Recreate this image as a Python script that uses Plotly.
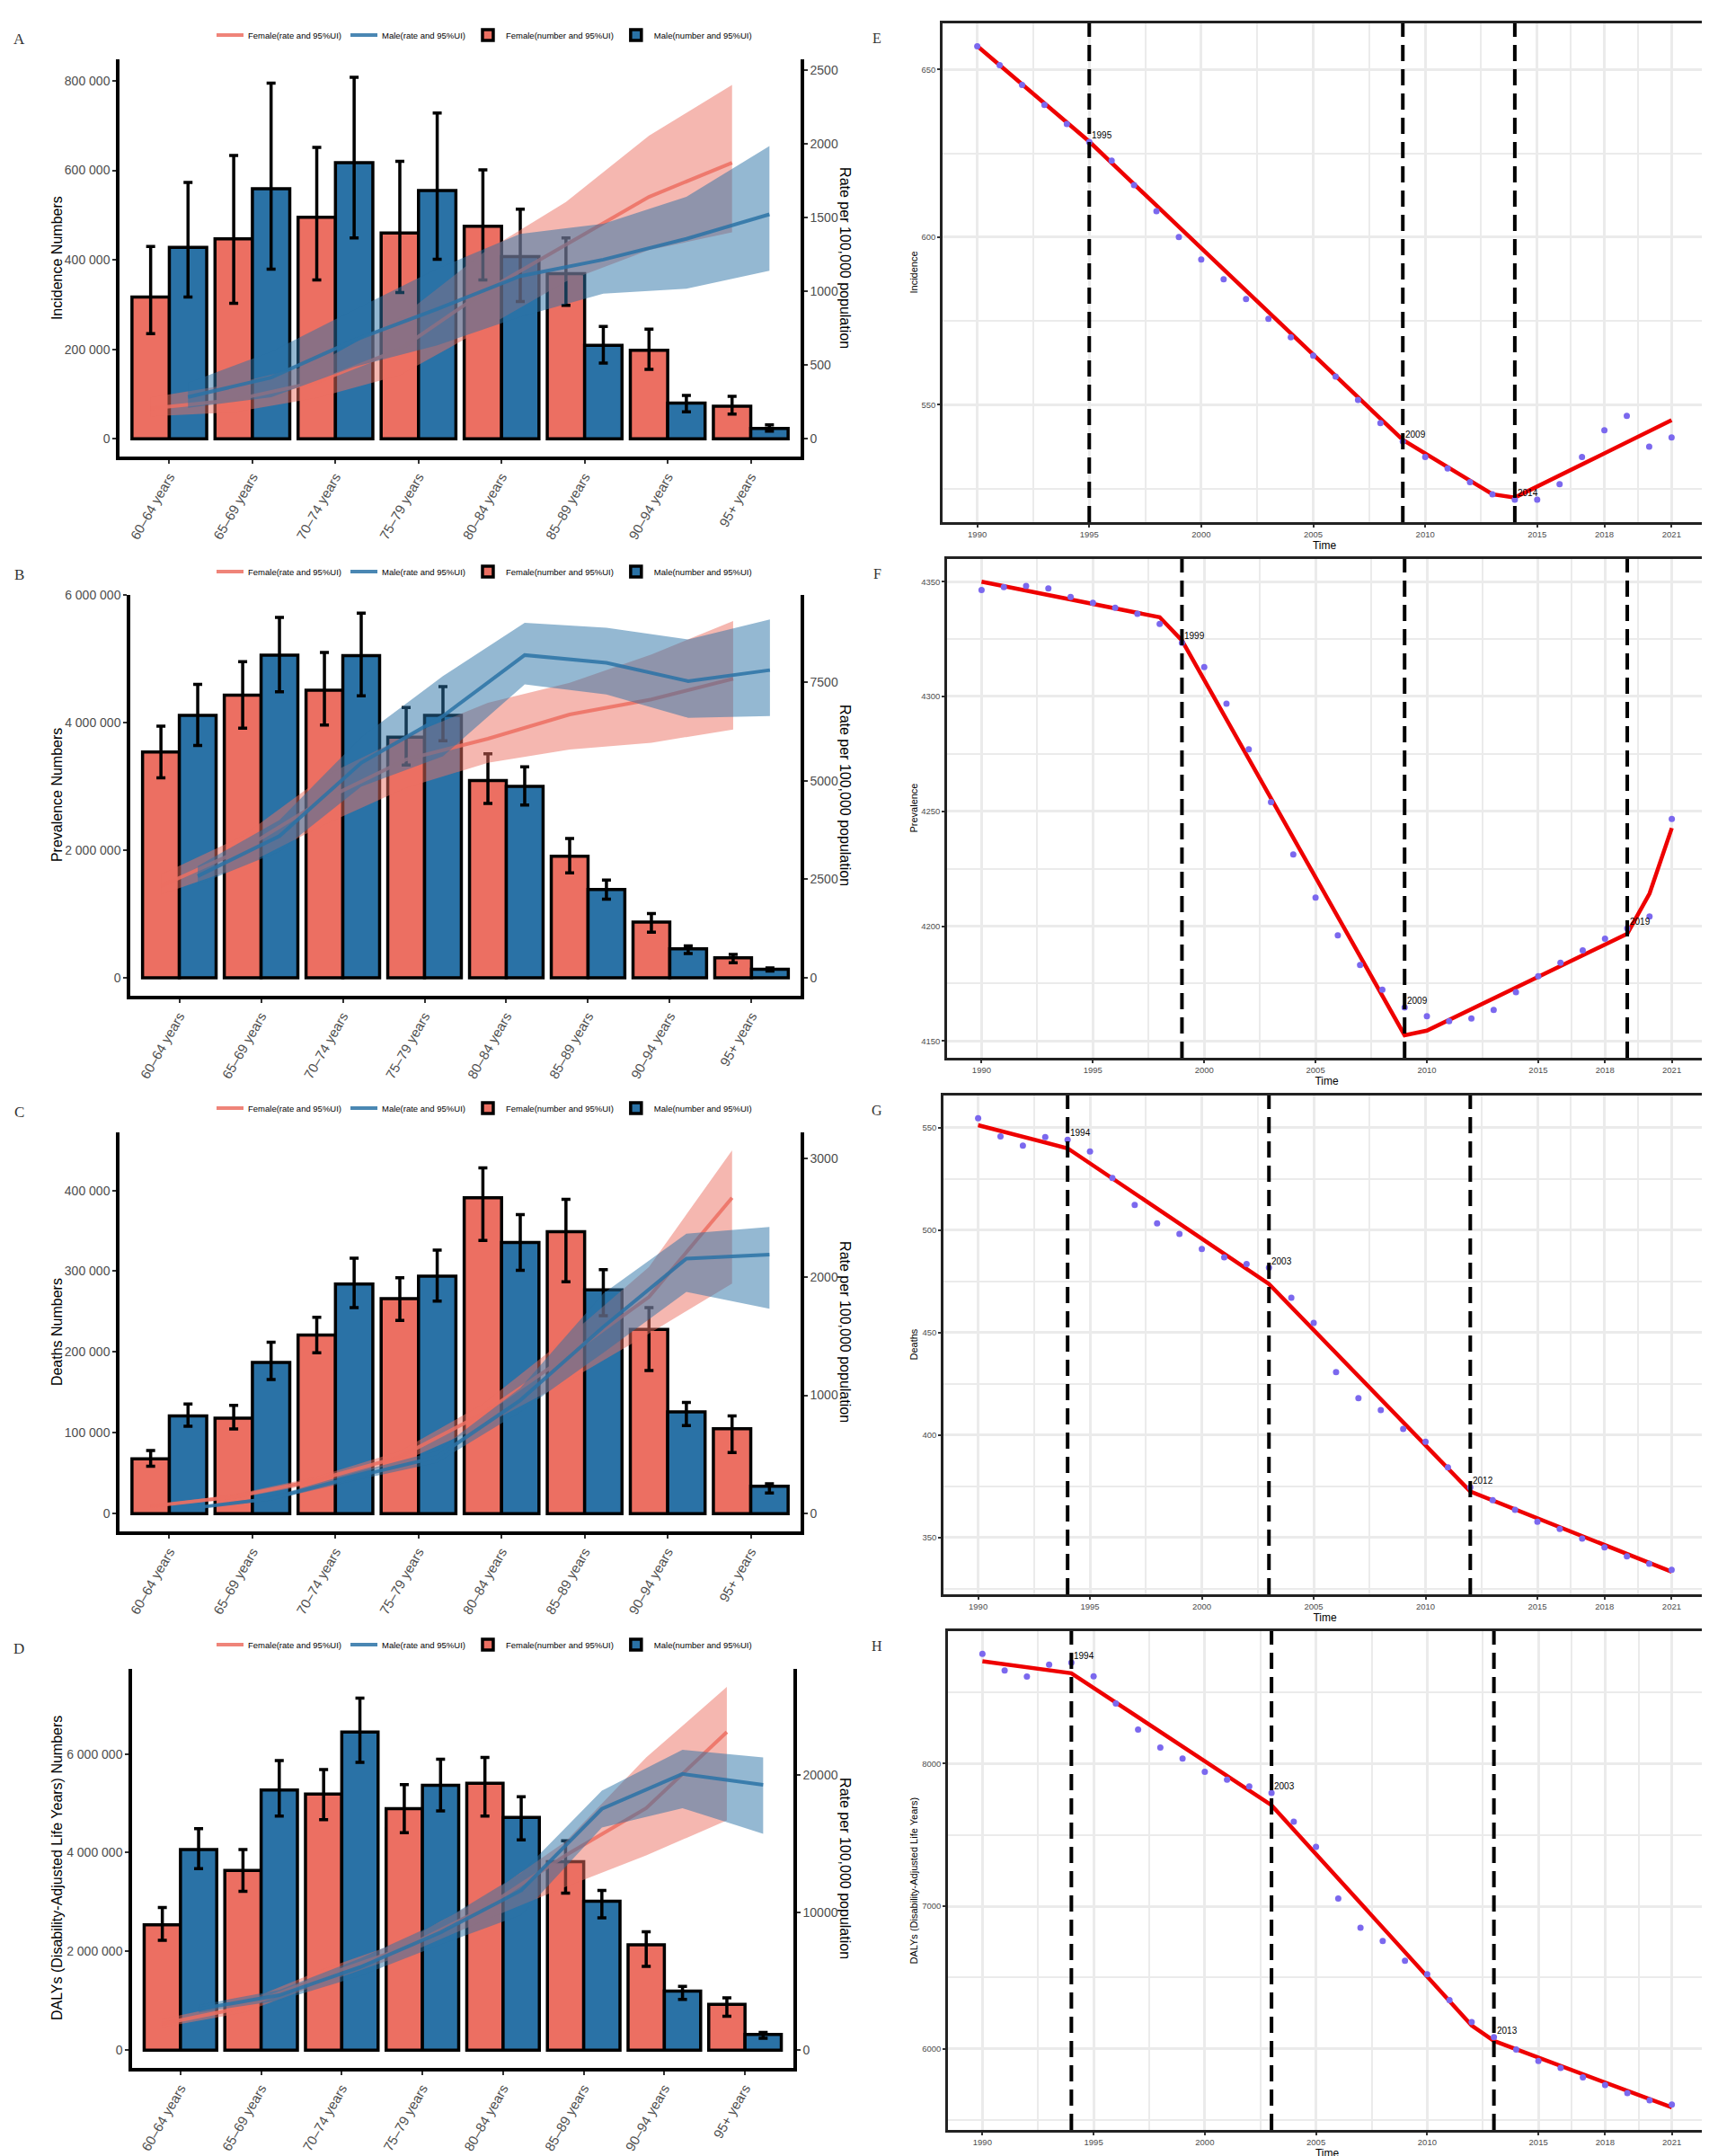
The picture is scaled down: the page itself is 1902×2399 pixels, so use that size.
import plotly.graph_objects as go

W, H = 1902, 2399

ages = ["60–64 years", "65–69 years", "70–74 years", "75–79 years",
        "80–84 years", "85–89 years", "90–94 years", "95+ years"]

# ---- A: incidence (numbers, rate per 100,000) ----
inc_num_f = [317000, 447000, 495000, 460000, 475000, 369000, 198000, 73000]
inc_num_f_lo = [235000, 303000, 355000, 327000, 355000, 298000, 155000, 55000]
inc_num_f_hi = [430000, 633000, 651000, 620000, 601000, 449000, 245000, 95000]
inc_num_m = [428000, 559000, 617000, 555000, 407000, 209000, 80000, 23000]
inc_num_m_lo = [317000, 379000, 449000, 401000, 307000, 169000, 60000, 17000]
inc_num_m_hi = [573000, 795000, 808000, 728000, 513000, 251000, 97000, 31000]
inc_rate_f = [206, 263, 385, 607, 992, 1316, 1640, 1872]
inc_rate_f_lo = [152, 179, 277, 431, 744, 1066, 1279, 1400]
inc_rate_f_hi = [280, 373, 508, 819, 1260, 1606, 2055, 2400]
inc_rate_m = [283, 415, 668, 880, 1103, 1215, 1356, 1522]
inc_rate_m_lo = [210, 282, 488, 634, 827, 984, 1017, 1140]
inc_rate_m_hi = [379, 589, 875, 1153, 1390, 1458, 1641, 1985]

# ---- B: prevalence ----
prev_num_f = [3539000, 4433000, 4511000, 3774000, 3095000, 1908000, 873000, 314000]
prev_num_f_lo = [3137000, 3915000, 3962000, 3335000, 2734000, 1647000, 716000, 235000]
prev_num_f_hi = [3947000, 4956000, 5102000, 4239000, 3513000, 2185000, 1009000, 366000]
prev_num_m = [4114000, 5060000, 5050000, 4114000, 3000000, 1385000, 455000, 136000]
prev_num_m_lo = [3644000, 4485000, 4422000, 3717000, 2708000, 1234000, 382000, 105000]
prev_num_m_hi = [4600000, 5651000, 5719000, 4564000, 3309000, 1532000, 502000, 157000]
prev_rate_f = [2325, 3254, 4522, 5537, 6062, 6678, 7058, 7582]
prev_rate_f_lo = [2113, 2832, 3888, 4818, 5452, 5790, 5960, 6298]
prev_rate_f_hi = [2620, 3593, 5114, 6129, 6975, 7480, 8200, 9045]
prev_rate_m = [2578, 3593, 5452, 6636, 8183, 7988, 7523, 7802]
prev_rate_m_lo = [2367, 3200, 4850, 5620, 7439, 7185, 6593, 6636]
prev_rate_m_hi = [2832, 4000, 6100, 7650, 9003, 8876, 8580, 9087]

# ---- C: deaths ----
death_num_f = [67800, 118000, 221000, 266000, 391000, 349000, 228000, 105000]
death_num_f_lo = [58700, 104700, 199000, 239000, 338000, 287000, 177000, 75600]
death_num_f_hi = [78000, 134000, 243000, 292000, 428000, 389000, 255000, 121000]
death_num_m = [121000, 187000, 284000, 294000, 335500, 277000, 126000, 33700]
death_num_m_lo = [108000, 166000, 255000, 263000, 301000, 245000, 109000, 25500]
death_num_m_hi = [135500, 212000, 316000, 326000, 370000, 302000, 137600, 37000]
death_rate_f = [62, 141, 282, 479, 845, 1324, 1831, 2670]
death_rate_f_lo = [54, 125, 254, 431, 740, 1110, 1521, 1944]
death_rate_f_hi = [71, 160, 310, 527, 925, 1480, 2084, 3070]
death_rate_m = [42, 127, 310, 479, 958, 1577, 2155, 2189]
death_rate_m_lo = [36, 113, 279, 431, 860, 1360, 1873, 1732]
death_rate_m_hi = [48, 144, 345, 530, 1060, 1860, 2366, 2422]

# ---- D: DALYs ----
daly_num_f = [2537000, 3640000, 5187000, 4890000, 5406000, 3816000, 2134000, 926000]
daly_num_f_lo = [2226000, 3216000, 4671000, 4403000, 4742000, 3180000, 1696000, 685000]
daly_num_f_hi = [2890000, 4064000, 5682000, 5378000, 5929000, 4240000, 2396000, 1060000]
daly_num_m = [4064000, 5272000, 6445000, 5364000, 4714000, 3018000, 1194000, 318000]
daly_num_m_lo = [3675000, 4742000, 5830000, 4848000, 4261000, 2678000, 1025000, 240000]
daly_num_m_hi = [4488000, 5866000, 7131000, 5894000, 5131000, 3237000, 1293000, 360000]
daly_rate_f = [1906, 3100, 5388, 7420, 10343, 14155, 17586, 23126]
daly_rate_f_lo = [1652, 2719, 4879, 6912, 9454, 11868, 14155, 16696]
daly_rate_f_hi = [2262, 3482, 5896, 7929, 11106, 15172, 21271, 26404]
daly_rate_m = [2973, 3990, 6023, 8564, 11614, 17535, 20076, 19288]
daly_rate_m_lo = [2719, 3609, 5388, 7675, 9835, 16188, 17586, 15731]
daly_rate_m_hi = [3278, 4371, 6658, 9327, 12884, 18856, 21830, 21271]

# ---- E-H: joinpoint trends 1990-2021 ----
years = list(range(1990, 2022))
inc_obs = [656.9, 651.3, 645.4, 639.4, 633.7, 628.4, 622.8, 615.5, 607.7, 600.0,
           593.3, 587.4, 581.5, 575.6, 570.1, 564.6, 558.4, 551.4, 544.5, 539.0,
           534.4, 531.0, 526.9, 523.3, 521.7, 521.7, 526.3, 534.4, 542.4, 546.7,
           537.5, 540.2]
inc_fit_years = [1990, 1995, 2009, 2013, 2014, 2021]
inc_fit = [657.0, 628.5, 539.5, 523.3, 522.3, 545.4]
inc_joins = [1995, 2009, 2014]

prev_obs = [4346.4, 4347.6, 4348.1, 4347.0, 4343.3, 4340.8, 4338.6, 4336.0, 4331.6, 4323.4,
            4312.8, 4296.9, 4277.0, 4254.0, 4231.2, 4212.4, 4196.0, 4183.1, 4172.3, 4164.6,
            4160.8, 4158.6, 4159.8, 4163.5, 4171.2, 4178.2, 4184.1, 4189.4, 4194.5, 4199.0,
            4204.2, 4246.7]
prev_fit_years = [1990, 1998, 1999, 2009, 2010, 2019, 2020, 2021]
prev_fit = [4350.0, 4334.5, 4324.4, 4152.5, 4154.5, 4196.7, 4214.2, 4242.7]
prev_joins = [1999, 2009, 2019]

death_obs = [554.7, 545.8, 541.3, 545.5, 544.2, 538.5, 525.5, 512.3, 503.3, 498.2,
             490.8, 486.8, 483.5, 481.7, 467.0, 454.8, 430.7, 418.0, 412.2, 403.0,
             396.7, 384.3, 374.5, 368.2, 363.5, 357.7, 354.2, 349.5, 345.2, 340.8,
             337.2, 334.2]
death_fit_years = [1990, 1994, 2003, 2012, 2021]
death_fit = [551.3, 540.0, 473.8, 372.5, 333.3]
death_joins = [1994, 2003, 2012]

daly_obs = [8770, 8653, 8610, 8694, 8708, 8612, 8421, 8239, 8112, 8036,
            7943, 7888, 7840, 7794, 7593, 7416, 7053, 6849, 6756, 6617,
            6522, 6342, 6187, 6081, 5995, 5914, 5866, 5799, 5746, 5689,
            5639, 5608]
daly_fit_years = [1990, 1994, 2003, 2012, 2013, 2021]
daly_fit = [8718, 8634, 7708, 6163, 6055, 5589]
daly_joins = [1994, 2003, 2013]

year_ticks = [1990, 1995, 2000, 2005, 2010, 2015, 2018, 2021]

FEMALE = "#EC6F62"
MALE = "#2A72A6"
SANS = "Liberation Sans, Arial, sans-serif"
SERIF = "Liberation Serif, Times New Roman, serif"
TICK_GREY = "#4D4D4D"


def rgba(hexcol, a):
    h = hexcol.lstrip("#")
    return "rgba(%d,%d,%d,%s)" % (int(h[0:2], 16), int(h[2:4], 16), int(h[4:6], 16), a)


# page pixel -> paper fraction
def fx(p):
    return p / W


def fy(p):
    return 1 - p / H


left_panels = [
    dict(letter="A", title="Incidence Numbers", box=(125, 883, 50, 494), leg_y=23,
         dtick=200000, rdtick=500,
         num=(inc_num_f, inc_num_f_lo, inc_num_f_hi, inc_num_m, inc_num_m_lo, inc_num_m_hi),
         rate=(inc_rate_f, inc_rate_f_lo, inc_rate_f_hi, inc_rate_m, inc_rate_m_lo, inc_rate_m_hi)),
    dict(letter="B", title="Prevalence Numbers", box=(137, 883, 648, 1096), leg_y=622,
         dtick=2000000, rdtick=2500,
         num=(prev_num_f, prev_num_f_lo, prev_num_f_hi, prev_num_m, prev_num_m_lo, prev_num_m_hi),
         rate=(prev_rate_f, prev_rate_f_lo, prev_rate_f_hi, prev_rate_m, prev_rate_m_lo, prev_rate_m_hi)),
    dict(letter="C", title="Deaths Numbers", box=(125, 883, 1248, 1694), leg_y=1221,
         dtick=100000, rdtick=1000,
         num=(death_num_f, death_num_f_lo, death_num_f_hi, death_num_m, death_num_m_lo, death_num_m_hi),
         rate=(death_rate_f, death_rate_f_lo, death_rate_f_hi, death_rate_m, death_rate_m_lo, death_rate_m_hi)),
    dict(letter="D", title="DALYs (Disability-Adjusted Life Years) Numbers", box=(139, 875, 1847, 2293),
         leg_y=1820, dtick=2000000, rdtick=10000,
         num=(daly_num_f, daly_num_f_lo, daly_num_f_hi, daly_num_m, daly_num_m_lo, daly_num_m_hi),
         rate=(daly_rate_f, daly_rate_f_lo, daly_rate_f_hi, daly_rate_m, daly_rate_m_lo, daly_rate_m_hi)),
]

right_panels = [
    dict(letter="E", title="Incidence", box=(1041, 1891, 10, 567), obs=inc_obs,
         fit_x=inc_fit_years, fit=inc_fit, joins=inc_joins, dtick=50),
    dict(letter="F", title="Prevalence", box=(1046, 1891, 608, 1165), obs=prev_obs,
         fit_x=prev_fit_years, fit=prev_fit, joins=prev_joins, dtick=50),
    dict(letter="G", title="Deaths", box=(1042, 1891, 1207, 1764), obs=death_obs,
         fit_x=death_fit_years, fit=death_fit, joins=death_joins, dtick=50),
    dict(letter="H", title="DALYs (Disability-Adjusted Life Years)", box=(1047, 1891, 1805, 2362),
         obs=daly_obs, fit_x=daly_fit_years, fit=daly_fit, joins=daly_joins, dtick=1000),
]

fig = go.Figure()
layout = {}
annotations = []
shapes = []
dodge = 0.225
xs = list(range(len(ages)))

for i, p in enumerate(left_panels):
    xa, ya, yr = "x%d" % (i + 1), "y%d" % (i + 1), "y%d" % (i + 5)
    leg = "legend" if i == 0 else "legend%d" % (i + 1)
    nf, nf_lo, nf_hi, nm, nm_lo, nm_hi = p["num"]
    rf, rf_lo, rf_hi, rm, rm_lo, rm_hi = p["rate"]
    scale = max(nf + nm) / max(rf + rm)
    top = max(max(nf_hi + nm_hi), max(rf_hi + rm_hi) * scale)
    rng = [-0.05 * top, 1.05 * top]

    for v, lo, hi, col, nm_, rank in ((nf, nf_lo, nf_hi, FEMALE, "Female(number and 95%UI)", 3),
                                      (nm, nm_lo, nm_hi, MALE, "Male(number and 95%UI)", 4)):
        fig.add_trace(go.Bar(
            x=xs, y=v, name=nm_, xaxis=xa, yaxis=ya, legend=leg, legendrank=rank,
            offsetgroup=str(rank),
            marker=dict(color=col, line=dict(color="black", width=3.5)),
            error_y=dict(type="data", symmetric=False,
                         array=[h - a for h, a in zip(hi, v)],
                         arrayminus=[a - l for a, l in zip(v, lo)],
                         color="black", thickness=3.5, width=5),
            hoverinfo="skip"))

    for v, lo, hi, col, nm_, rank, off in ((rf, rf_lo, rf_hi, FEMALE, "Female(rate and 95%UI)", 1, -dodge),
                                           (rm, rm_lo, rm_hi, MALE, "Male(rate and 95%UI)", 2, dodge)):
        xp = [k + off for k in xs]
        fig.add_trace(go.Scatter(
            x=xp + xp[::-1], y=hi + lo[::-1], fill="toself", fillcolor=rgba(col, 0.5),
            line=dict(width=0), mode="lines", xaxis=xa, yaxis=yr, showlegend=False,
            hoverinfo="skip"))
        fig.add_trace(go.Scatter(
            x=xp, y=v, mode="lines", name=nm_, line=dict(color=rgba(col, 0.85), width=4),
            xaxis=xa, yaxis=yr, legend=leg, legendrank=rank, hoverinfo="skip"))

    x0, x1, y0, y1 = p["box"]
    axis_common = dict(showline=True, linecolor="black", linewidth=3.5, ticks="outside",
                       ticklen=4, tickwidth=1.5, tickcolor="#333333", showgrid=False,
                       zeroline=False)
    layout["xaxis%d" % (i + 1)] = dict(
        domain=[fx(x0), fx(x1)], anchor=ya, range=[-0.6, 7.6], tickmode="array",
        tickvals=xs, ticktext=ages, tickangle=-60,
        tickfont=dict(family=SANS, size=15, color=TICK_GREY), **axis_common)
    layout["yaxis%d" % (i + 1)] = dict(
        domain=[fy(y1), fy(y0)], anchor=xa, range=rng, dtick=p["dtick"], tick0=0,
        tickformat=",d", tickfont=dict(family=SANS, size=14, color=TICK_GREY), **axis_common)
    layout["yaxis%d" % (i + 5)] = dict(
        overlaying=ya, side="right", anchor=xa, range=[r / scale for r in rng],
        dtick=p["rdtick"], tick0=0, tickformat="d",
        tickfont=dict(family=SANS, size=14, color=TICK_GREY), **axis_common)
    layout[leg] = dict(
        orientation="h", x=fx(228), xanchor="left", y=fy(p["leg_y"]), yanchor="middle",
        font=dict(family=SANS, size=9.5, color="black"), bgcolor="rgba(0,0,0,0)",
        traceorder="normal", itemwidth=30, tracegroupgap=0)

    mid = fy((y0 + y1) / 2)
    annotations.append(dict(text=p["title"], x=fx(55), y=mid, xref="paper", yref="paper",
                            xanchor="center", yanchor="middle", textangle=-90,
                            showarrow=False, font=dict(family=SANS, size=16, color="black")))
    annotations.append(dict(text="Rate per 100,000 population", x=fx(933), y=mid,
                            xref="paper", yref="paper", xanchor="center", yanchor="middle",
                            textangle=90, showarrow=False,
                            font=dict(family=SANS, size=16, color="black")))
    annotations.append(dict(text=p["letter"], x=fx(13), y=fy(y0 - 22), xref="paper", yref="paper",
                            xanchor="center", yanchor="middle", showarrow=False,
                            font=dict(family=SERIF, size=17, color="#333333")))

minor_years = [(a + b) / 2 for a, b in zip(year_ticks, year_ticks[1:])]

for j, p in enumerate(right_panels):
    n = j + 5
    xa, ya = "x%d" % n, "y%d" % (j + 9)
    fig.add_trace(go.Scatter(x=p["fit_x"], y=p["fit"], mode="lines",
                             line=dict(color="#EE0000", width=4.5), xaxis=xa, yaxis=ya,
                             showlegend=False, hoverinfo="skip"))
    fig.add_trace(go.Scatter(x=years, y=p["obs"], mode="markers",
                             marker=dict(color="#7B68EE", size=7), xaxis=xa, yaxis=ya,
                             showlegend=False, hoverinfo="skip"))
    vals = p["obs"] + p["fit"]
    lo, hi = min(vals), max(vals)
    pad = 0.05 * (hi - lo)
    x0, x1, y0, y1 = p["box"]
    grid = dict(showgrid=True, gridcolor="#EBEBEB", gridwidth=3, showline=True, mirror=True,
                linecolor="#222222", linewidth=2.5, ticks="outside", ticklen=3, tickwidth=1.5,
                tickcolor="#333333", zeroline=False,
                tickfont=dict(family=SANS, size=9.5, color=TICK_GREY))
    layout["xaxis%d" % n] = dict(
        domain=[fx(x0), fx(x1)], anchor=ya, range=[1988.45, 2022.55], tickmode="array",
        tickvals=year_ticks,
        minor=dict(tickmode="array", tickvals=minor_years, showgrid=True, gridcolor="#EBEBEB",
                   gridwidth=1.5),
        title=dict(text="Time", standoff=0, font=dict(family=SANS, size=12, color="black")),
        **grid)
    layout["yaxis%d" % (j + 9)] = dict(
        domain=[fy(y1), fy(y0)], anchor=xa, range=[lo - pad, hi + pad], dtick=p["dtick"], tick0=0,
        minor=dict(dtick=p["dtick"] / 2, tick0=0, showgrid=True, gridcolor="#EBEBEB",
                   gridwidth=1.5),
        **grid)
    for yr_ in p["joins"]:
        shapes.append(dict(type="line", xref=xa, yref=ya + " domain", x0=yr_, x1=yr_, y0=0, y1=1,
                           line=dict(color="black", width=4, dash="18px,9px"), layer="above"))
        annotations.append(dict(text=str(yr_), x=yr_, y=p["obs"][years.index(yr_)], xref=xa,
                                yref=ya, xanchor="left", yanchor="bottom", xshift=1,
                                showarrow=False,
                                font=dict(family=SANS, size=10, color="black")))
    annotations.append(dict(text=p["title"], x=fx(1009), y=fy((y0 + y1) / 2), xref="paper",
                            yref="paper", xanchor="center", yanchor="middle", textangle=-90,
                            showarrow=False, font=dict(family=SANS, size=11, color="black")))
    annotations.append(dict(text=p["letter"], x=fx(968), y=fy(y0 + 17), xref="paper",
                            yref="paper", xanchor="center", yanchor="middle", showarrow=False,
                            font=dict(family=SERIF, size=16, color="#333333")))

fig.update_layout(
    width=W, height=H, margin=dict(l=0, r=0, t=0, b=0),
    paper_bgcolor="white", plot_bgcolor="white",
    barmode="group", bargap=0.1, bargroupgap=0,
    separators=". ", showlegend=True,
    annotations=annotations, shapes=shapes, **layout)

fig.write_html("out.html")
